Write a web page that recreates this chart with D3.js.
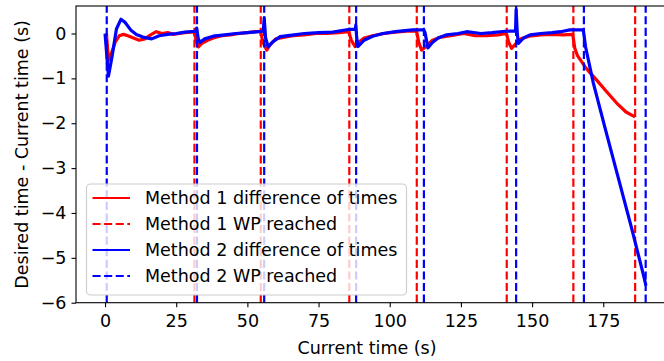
<!DOCTYPE html>
<html>
<head>
<meta charset="utf-8">
<script src="https://cdn.jsdelivr.net/npm/d3@7"></script>
<style>
  body { margin: 0; background: #fff; }
  svg { display: block; font-family: "DejaVu Sans", sans-serif; }
</style>
</head>
<body>
<div id="chart"></div>
<script>
// Method 1 (red) difference of times
const m1Time = [0.5, 1.2, 2.5, 3.5, 5, 6.5, 8, 10, 12, 14, 16, 18, 20, 22, 24, 26, 28, 30, 31.3,
  32.2, 32.8, 34, 36, 38, 41, 44, 47, 50, 53, 54.6,
  55.5, 56.8, 58, 60, 63, 66, 70, 74, 78, 82, 85.6,
  86.5, 87.8, 89, 91, 94, 98, 102, 106, 109.4,
  110.2, 111.2, 112.5, 115, 118, 122, 126, 130, 134, 138, 141,
  141.8, 142.8, 144, 146, 149, 153, 157, 161, 164.3,
  165, 166, 168.6, 170, 172.7, 176.2, 179.7, 183, 185, 186.2];
const m1Diff = [0, -0.6, -0.4, -0.2, -0.05, -0.02, -0.05, -0.1, -0.15, -0.12, -0.03, 0.04, 0.0, 0.02, -0.02, 0.0, 0.02, 0.03, 0.03,
  -0.2, -0.3, -0.22, -0.15, -0.1, -0.05, -0.03, 0.0, 0.02, 0.04, 0.05,
  -0.2, -0.37, -0.25, -0.12, -0.08, -0.05, -0.03, 0.0, 0.0, 0.02, 0.04,
  -0.15, -0.29, -0.2, -0.1, -0.05, 0.0, 0.03, 0.05, 0.06,
  -0.2, -0.37, -0.3, -0.15, -0.08, -0.04, 0.0, -0.05, -0.05, -0.03, 0.0,
  -0.2, -0.33, -0.25, -0.12, -0.06, -0.03, -0.02, -0.03, -0.02,
  -0.33, -0.5, -0.74, -0.85, -1.04, -1.3, -1.55, -1.75, -1.82, -1.86];

// Method 2 (blue) difference of times
const m2Time = [0, 1.2, 2.5, 4, 5.6, 7, 9, 11, 13.3, 16.4, 19, 22, 25, 28, 31.8,
  32.2, 32.7, 33.3, 35, 38, 42, 46, 50, 54, 55.6,
  55.9, 56.4, 57.3, 59, 61.5, 65, 70, 75, 80, 85.4, 87.9,
  88.1, 88.4, 88.9, 91, 94, 97.6, 102, 108, 112,
  112.4, 113.4, 115, 117, 120, 124, 127, 132, 136, 140.5, 144.2,
  144.4, 144.8, 145.2, 147, 149.3, 153, 157, 160, 163.3, 168,
  168.8, 171.5, 175.6, 180, 185, 189.2, 190];
const m2Diff = [0, -0.95, -0.5, 0.1, 0.32, 0.25, 0.08, -0.02, -0.08, -0.12, -0.05, -0.02, 0.0, 0.03, 0.05,
  0.12, -0.1, -0.2, -0.12, -0.06, -0.03, 0.0, 0.02, 0.04, 0.05,
  0.35, -0.1, -0.3, -0.18, -0.07, -0.04, 0.0, 0.02, 0.03, 0.09, 0.09,
  0.19, -0.1, -0.29, -0.15, -0.06, 0.0, 0.04, 0.08, 0.08,
  0.02, -0.32, -0.2, -0.1, -0.03, 0.0, 0.04, 0.0, 0.02, 0.05, 0.06,
  0.54, 0.0, -0.22, -0.1, -0.03, 0.0, 0.02, 0.04, 0.08, 0.08,
  -0.3, -1.1, -2.1, -3.15, -4.35, -5.4, -5.62];

// waypoint reached times
const m1Wp = [31.4, 54.7, 85.8, 109.5, 141.1, 164.5, 186.2];
const m2Wp = [0.6, 32.3, 55.9, 88.2, 112.0, 144.4, 168.2, 189.9];

const xTicks = [0, 25, 50, 75, 100, 125, 150, 175];
const yTicks = [0, -1, -2, -3, -4, -5, -6];

const legendItems = [
  {label: "Method 1 difference of times", color: "#ff0000", dash: null},
  {label: "Method 1 WP reached", color: "#ff0000", dash: "8.1,3.5"},
  {label: "Method 2 difference of times", color: "#0000ff", dash: null},
  {label: "Method 2 WP reached", color: "#0000ff", dash: "8.1,3.5"}
];

const W = 664, H = 361;
const plot = {left: 76, top: 6, right: 673, bottom: 302.7};
const fs = 17.5;

const svg = d3.select("#chart").append("svg")
  .attr("width", W).attr("height", H)
  .style("overflow", "hidden");

const x = d3.scaleLinear().domain([-10.2, 199.5]).range([plot.left, plot.right]);
const y = d3.scaleLinear().domain([-6, 0.613]).range([plot.bottom, plot.top]);

svg.append("defs").append("clipPath").attr("id", "clip")
  .append("rect")
  .attr("x", plot.left).attr("y", plot.top)
  .attr("width", plot.right - plot.left).attr("height", plot.bottom - plot.top);

const g = svg.append("g").attr("clip-path", "url(#clip)");

const line = d3.line().x(d => x(d[0])).y(d => y(d[1]));
const m1 = m1Time.map((t, i) => [t, m1Diff[i]]);
const m2 = m2Time.map((t, i) => [t, m2Diff[i]]);

function vlines(times, color) {
  g.append("g").selectAll("line")
    .data(times)
    .join("line")
    .attr("x1", d => x(d)).attr("x2", d => x(d))
    .attr("y1", plot.bottom).attr("y2", plot.top)
    .attr("stroke", color)
    .attr("stroke-width", 2.2)
    .attr("stroke-dasharray", "8.1,3.5");
}

g.append("path").datum(m1)
  .attr("d", line)
  .attr("fill", "none")
  .attr("stroke", "#ff0000")
  .attr("stroke-width", 3.2)
  .attr("stroke-linejoin", "round");
vlines(m1Wp, "#ff0000");

g.append("path").datum(m2)
  .attr("d", line)
  .attr("fill", "none")
  .attr("stroke", "#0000ff")
  .attr("stroke-width", 3.2)
  .attr("stroke-linejoin", "round");
vlines(m2Wp, "#0000ff");

// axes
const xAxis = svg.append("g")
  .attr("transform", `translate(0,${plot.bottom})`)
  .call(d3.axisBottom(x).tickValues(xTicks).tickSize(4.5).tickPadding(7));
const yAxis = svg.append("g")
  .attr("transform", `translate(${plot.left},0)`)
  .call(d3.axisLeft(y).tickValues(yTicks).tickSize(4.5).tickPadding(5)
    .tickFormat(d => d < 0 ? "\u2212" + Math.abs(d) : d));

[xAxis, yAxis].forEach(a => {
  a.select(".domain").remove();
  a.selectAll("line").attr("stroke", "#000").attr("stroke-width", 1.1);
  a.selectAll("text").attr("fill", "#000").style("font-size", fs + "px")
    .style("font-family", "DejaVu Sans");
});

// spines
svg.append("rect")
  .attr("x", plot.left).attr("y", plot.top)
  .attr("width", plot.right - plot.left).attr("height", plot.bottom - plot.top)
  .attr("fill", "none").attr("stroke", "#000").attr("stroke-width", 1.1);

// axis labels
svg.append("text")
  .attr("x", 367).attr("y", 354)
  .attr("text-anchor", "middle")
  .style("font-size", fs + "px")
  .text("Current time (s)");

svg.append("text")
  .attr("transform", `translate(28,${(plot.top + plot.bottom) / 2}) rotate(-90)`)
  .attr("text-anchor", "middle")
  .style("font-size", fs + "px")
  .text("Desired time - Current time (s)");

// legend
const lg = svg.append("g");
lg.append("rect")
  .attr("x", 86.5).attr("y", 184).attr("width", 320).attr("height", 111)
  .attr("rx", 4)
  .attr("fill", "#fff").attr("fill-opacity", 0.8)
  .attr("stroke", "#cccccc").attr("stroke-width", 1.1);

const rows = lg.selectAll("g.item")
  .data(legendItems)
  .join("g")
  .attr("class", "item")
  .attr("transform", (d, i) => `translate(0,${198 + i * 26})`);
rows.append("line")
  .attr("x1", 92.5).attr("x2", 130)
  .attr("stroke", d => d.color)
  .attr("stroke-width", 2.2)
  .attr("stroke-dasharray", d => d.dash);
rows.append("text")
  .attr("x", 145).attr("dy", "0.36em")
  .style("font-size", fs + "px")
  .text(d => d.label);
</script>
</body>
</html>
